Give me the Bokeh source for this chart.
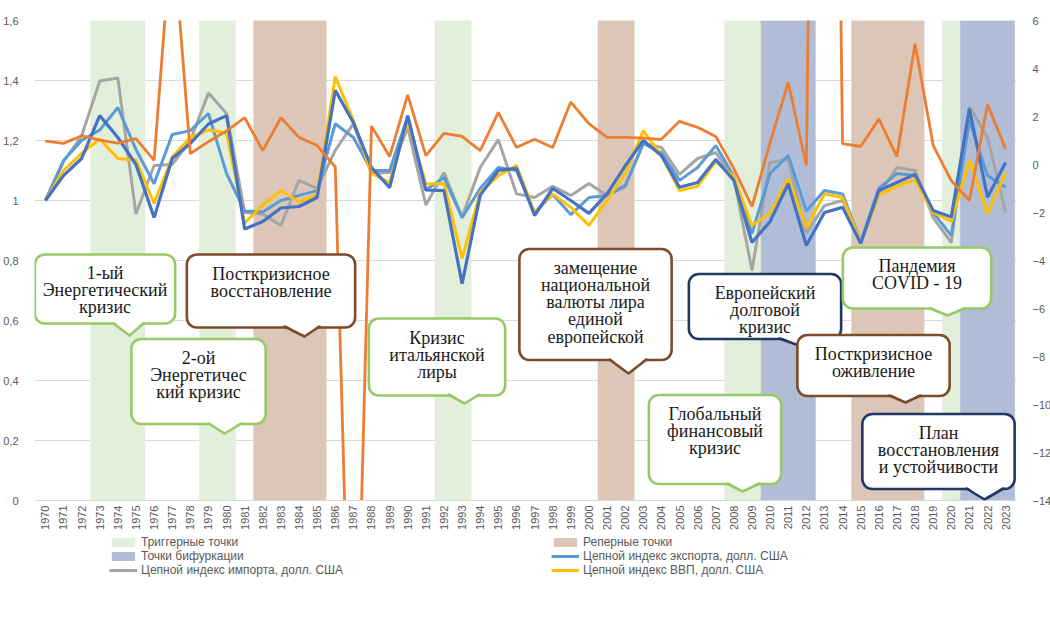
import numpy as np
from bokeh.plotting import figure
from bokeh.layouts import column
from bokeh.models import (Range1d, LinearAxis, FixedTicker, Legend, LegendItem,
                          Label, PolyAnnotation)
from bokeh.embed import file_html
from bokeh.resources import INLINE

years = list(range(1970, 2024))

# left axis series (chain indices)
dark_blue = [1.000, 1.083, 1.140, 1.283, 1.210, 1.120, 0.943, 1.140, 1.190, 1.255,
             1.283, 0.905, 0.930, 0.975, 0.980, 1.010, 1.367, 1.260, 1.110, 1.043,
             1.283, 1.035, 1.033, 0.723, 1.017, 1.100, 1.107, 0.950, 1.040, 1.000,
             0.957, 1.022, 1.115, 1.200, 1.150, 1.044, 1.060, 1.137, 1.067, 0.860,
             0.930, 1.056, 0.850, 0.960, 0.977, 0.857, 1.033, 1.060, 1.087, 0.967,
             0.945, 1.306, 1.011, 1.127]
export_idx = [1.000, 1.133, 1.200, 1.235, 1.310, 1.170, 1.056, 1.220, 1.233, 1.290,
              1.090, 0.965, 0.962, 1.000, 1.017, 1.033, 1.256, 1.210, 1.100, 1.100,
              1.280, 1.035, 1.077, 0.943, 1.040, 1.110, 1.100, 0.960, 1.020, 0.953,
              1.010, 1.017, 1.050, 1.190, 1.160, 1.067, 1.110, 1.183, 1.080, 0.890,
              1.090, 1.150, 0.965, 1.033, 1.022, 0.862, 1.040, 1.090, 1.083, 0.960,
              0.883, 1.267, 1.083, 1.044]
import_idx = [1.000, 1.130, 1.215, 1.398, 1.408, 0.955, 1.117, 1.120, 1.200, 1.358,
              1.290, 0.960, 0.955, 0.917, 1.067, 1.040, 1.167, 1.256, 1.090, 1.093,
              1.243, 0.985, 1.093, 0.945, 1.110, 1.203, 1.022, 1.010, 1.047, 1.017,
              1.057, 1.017, 1.045, 1.190, 1.177, 1.087, 1.140, 1.160, 1.075, 0.767,
              1.127, 1.137, 0.890, 0.983, 1.000, 0.860, 1.020, 1.110, 1.100, 0.943,
              0.860, 1.313, 1.210, 0.960]
gdp_idx = [1.000, 1.100, 1.157, 1.205, 1.140, 1.135, 0.990, 1.145, 1.210, 1.235,
           1.225, 0.925, 0.985, 1.033, 0.995, 1.020, 1.413, 1.267, 1.090, 1.060,
           1.267, 1.055, 1.057, 0.807, 1.027, 1.083, 1.117, 0.960, 1.022, 0.977,
           0.917, 1.000, 1.090, 1.233, 1.150, 1.033, 1.047, 1.130, 1.080, 0.917,
           0.957, 1.073, 0.910, 1.022, 1.010, 0.860, 1.020, 1.047, 1.070, 0.960,
           0.930, 1.133, 0.957, 1.093]
# right axis series
right_series = [0.97, 0.88, 1.20, 1.02, 0.89, 1.08, 0.17, 10.0, 0.45, 0.95,
                1.40, 1.95, 0.58, 1.95, 1.13, 0.79, -0.10, -27.0, 1.60, 0.33,
                2.90, 0.37, 1.30, 1.17, 0.58, 2.17, 0.71, 1.05, 0.71, 2.60,
                1.70, 1.13, 1.13, 1.10, 1.05, 1.80, 1.55, 1.17, -0.17, -1.75,
                0.90, 3.42, -0.04, 58.0, 0.87, 0.75, 1.90, 0.33, 5.03, 0.80,
                -0.67, -1.50, 2.50, 0.65]

trigger_years = [1973, 1974, 1975, 1979, 1980, 1992, 1993, 2008, 2009, 2020]
reper_years = [1982, 1983, 1984, 1985, 2001, 2002, 2015, 2016, 2017, 2018]
bifurc_years = [2010, 2011, 2012, 2021, 2022, 2023]

left_ticks = [0, 0.2, 0.4, 0.6, 0.8, 1.0, 1.2, 1.4, 1.6]
left_labels = ["0", "0,2", "0,4", "0,6", "0,8", "1", "1,2", "1,4", "1,6"]
right_ticks = list(range(-14, 7, 2))

TRIG_C, REP_C, BIF_C = "#E2EFDA", "#DCC6B8", "#B1BDD6"
GREEN, BROWN, NAVY = "#97C966", "#7B4B2A", "#203864"

# callouts: text lines, colour, box (left, top, right, bottom) and pointer, in frame px
callouts = [
    (["1-ый", "Энергетический", "кризис"], GREEN, 1, 234, 140, 303, 79, 109, 95, 315),
    (["Посткризисное", "восстановление"], BROWN, 153, 235, 320, 306, 250, 285, 270, 316),
    (["2-ой", "Энергетичес", "кий кризис"], GREEN, 97, 319, 231, 403, 174, 207, 190, 413),
    (["Кризис", "итальянской", "лиры"], GREEN, 334, 299, 471, 374, 414, 445, 430, 383),
    (["замещение", "национальной", "валюты лира", "единой", "европейской"], BROWN,
     485, 229, 637, 339, 575, 612, 594, 353),
    (["Глобальный", "финансовый", "кризис"], GREEN, 614, 375, 747, 463, 693, 725, 708, 471),
    (["Европейский", "долговой", "кризис"], NAVY, 655, 254, 806, 318, 745, 779, 767, 326),
    (["Посткризисное", "оживление"], BROWN, 763, 315, 915, 375, 855, 886, 871, 382),
    (["Пандемия", "COVID - 19"], GREEN, 809, 227, 956, 288, 896, 930, 913, 295),
    (["План", "восстановления", "и устойчивости"], NAVY, 828, 394, 980, 468, 932, 969, 950, 479),
]

X0, X1 = 1969.4, 2023.6
FW, FH = 982, 480
SX = FW / (X1 - X0)
SY = FH / 1.6

p = figure(frame_width=FW, frame_height=FH, x_range=Range1d(X0, X1), y_range=Range1d(0, 1.6),
           output_backend="svg", toolbar_location=None,
           min_border_left=25, min_border_top=20, min_border_right=0, min_border_bottom=0)
p.extra_y_ranges = {"right": Range1d(-14, 6)}
p.outline_line_color = None

p.xgrid.visible = False
p.ygrid.ticker = FixedTicker(ticks=left_ticks)
p.ygrid.grid_line_color = "#d9d9d9"

xa = p.xaxis[0]
xa.ticker = FixedTicker(ticks=years)
xa.major_label_orientation = np.pi / 2
xa.major_label_text_font = "Liberation Sans"
xa.major_label_text_font_size = "11px"
xa.major_label_text_color = "#595959"
xa.major_label_standoff = 5
xa.axis_line_color = "#d9d9d9"
xa.major_tick_line_color = None
xa.minor_tick_line_color = None
xa.major_tick_out = 0

ya = p.yaxis[0]
ya.ticker = FixedTicker(ticks=left_ticks)
ya.major_label_overrides = {t: s for t, s in zip(left_ticks, left_labels)}
ya.axis_line_color = None
ya.major_tick_line_color = None
ya.minor_tick_line_color = None
ya.major_label_standoff = 10

ra = LinearAxis(y_range_name="right", ticker=FixedTicker(ticks=right_ticks))
ra.axis_line_color = None
ra.major_tick_line_color = None
ra.minor_tick_line_color = None
ra.major_label_standoff = 10
p.add_layout(ra, "right")
for ax in (ya, ra):
    ax.major_label_text_font = "Liberation Sans"
    ax.major_label_text_font_size = "11px"
    ax.major_label_text_color = "#595959"

# bands
p.vbar(x=trigger_years, top=1.6, bottom=0, width=1, fill_color=TRIG_C, line_color=TRIG_C, line_width=0.5)
p.vbar(x=reper_years, top=1.6, bottom=0, width=1, fill_color=REP_C, line_color=REP_C, line_width=0.5)
p.vbar(x=bifurc_years, top=1.6, bottom=0, width=1, fill_color=BIF_C, line_color=BIF_C, line_width=0.5)

# lines
p.line(years, import_idx, line_color="#A5A5A5", line_width=3)
p.line(years, export_idx, line_color="#5B9BD5", line_width=3)
p.line(years, gdp_idx, line_color="#FFC000", line_width=3)
p.line(years, dark_blue, line_color="#4472C4", line_width=3.2)
p.line(years, right_series, line_color="#ED7D31", line_width=2.8, y_range_name="right")


def to_data(px, py):
    return X0 + px / SX, 1.6 - py / SY


def poly(pts):
    xs, ys = zip(*[to_data(x, y) for x, y in pts])
    return list(xs), list(ys)


for lines, col, l, t, r, b, pl, pr, tx, ty in callouts:
    # rounded box: an empty label whose padding gives the box size
    cx, cy = to_data((l + r) / 2, (t + b) / 2)
    p.add_layout(Label(x=cx, y=cy, text=" ", text_font_size="1px",
                       text_align="center", text_baseline="middle",
                       background_fill_color="white", background_fill_alpha=1.0,
                       border_line_color=col, border_line_width=2.6, border_line_alpha=1.0,
                       border_radius=10,
                       padding=(int(round((r - l) / 2)), int(round((b - t) / 2)))))
    # pointer: white wedge that hides the border, then its two edges
    xs, ys = poly([(pl, b - 2), (pr, b - 2), (tx, ty)])
    p.add_layout(PolyAnnotation(xs=xs, ys=ys, fill_color="white", fill_alpha=1.0,
                                line_alpha=0))
    xs, ys = poly([(pl, b), (tx, ty), (pr, b), (tx, ty)])
    p.add_layout(PolyAnnotation(xs=xs, ys=ys, fill_alpha=0, line_color=col,
                                line_alpha=1.0, line_width=2.6, line_join="round"))
    for i, txt in enumerate(lines):
        lx, ly = to_data((l + r) / 2, t + 18 + 17.3 * i)
        p.add_layout(Label(x=lx, y=ly, text=txt, text_align="center", text_baseline="middle",
                           text_font="Liberation Serif", text_font_size="18px",
                           text_color="#1a1a1a"))

# legend strip below the chart (same frame width so the column stays aligned)
leg = figure(frame_width=FW, frame_height=60, x_range=Range1d(0, 1), y_range=Range1d(0, 1),
             output_backend="svg", toolbar_location=None, x_axis_type=None, y_axis_type=None,
             min_border_left=25, min_border_right=27, min_border_top=0, min_border_bottom=0)
leg.grid.visible = False
leg.outline_line_color = None
# swatch renderers hold one point outside the visible range
lr_trig = leg.vbar(x=[-5], top=[-5], width=1, fill_color=TRIG_C, line_color=TRIG_C)
lr_rep = leg.vbar(x=[-5], top=[-5], width=1, fill_color=REP_C, line_color=REP_C)
lr_bif = leg.vbar(x=[-5], top=[-5], width=1, fill_color=BIF_C, line_color=BIF_C)
lr_exp = leg.line(x=[-5, -4], y=[-5, -5], line_color="#5B9BD5", line_width=3)
lr_imp = leg.line(x=[-5, -4], y=[-5, -5], line_color="#A5A5A5", line_width=3)
lr_gdp = leg.line(x=[-5, -4], y=[-5, -5], line_color="#FFC000", line_width=3)

legend = Legend(items=[
    LegendItem(label="Триггерные точки", renderers=[lr_trig]),
    LegendItem(label="Реперные точки", renderers=[lr_rep]),
    LegendItem(label="Точки бифуркации", renderers=[lr_bif]),
    LegendItem(label="Цепной индекс экспорта, долл. США", renderers=[lr_exp]),
    LegendItem(label="Цепной индекс импорта, долл. США", renderers=[lr_imp]),
    LegendItem(label="Цепной индекс ВВП, долл. США", renderers=[lr_gdp]),
], orientation="horizontal", ncols=2, location=(75, 15))
legend.label_text_font = "Liberation Sans"
legend.label_text_font_size = "12px"
legend.label_text_color = "#595959"
legend.label_width = 410
legend.label_height = 12
legend.label_standoff = 4
legend.glyph_width = 28
legend.glyph_height = 10
legend.spacing = 0
legend.padding = 0
legend.margin = 0
legend.border_line_color = None
legend.background_fill_alpha = 0
leg.add_layout(legend)

open("out.html", "w").write(file_html(column(p, leg), INLINE))
